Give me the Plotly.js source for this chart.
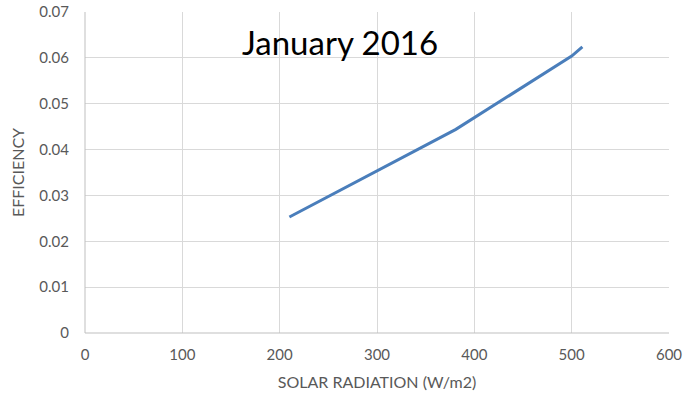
<!DOCTYPE html>
<html>
<head>
<meta charset="utf-8">
<script src="https://cdn.plot.ly/plotly-3.0.1.min.js"></script>
<style>html,body{margin:0;padding:0;background:#fff;}#chart{width:685px;height:398px;}</style>
</head>
<body>
<div id="chart"></div>
<script>
const radiation = [210, 381, 500, 511];
const efficiency = [0.0253, 0.0444, 0.0604, 0.0624];
const xTicks = [0, 100, 200, 300, 400, 500, 600];
const yTicks = [0, 0.01, 0.02, 0.03, 0.04, 0.05, 0.06, 0.07];
const yTickLabels = ['0', '0.01', '0.02', '0.03', '0.04', '0.05', '0.06', '0.07'];

const font = "Lato, 'Open Sans', sans-serif";
Plotly.newPlot('chart', [{
  x: radiation, y: efficiency, type: 'scatter', mode: 'lines',
  line: {color: '#4a7ebb', width: 3}
}], {
  width: 685, height: 398,
  margin: {l: 85, r: 16, t: 12, b: 65},
  paper_bgcolor: '#fff', plot_bgcolor: '#fff',
  showlegend: false,
  font: {family: font, color: '#595959', size: 15},
  xaxis: {
    range: [0, 600], tickvals: xTicks, ticktext: xTicks.map(String),
    showgrid: true, gridcolor: '#d9d9d9', gridwidth: 1,
    zeroline: false, showline: false, ticks: '', ticklen: 0,
    ticklabelstandoff: 11, automargin: false,
    tickfont: {size: 15, color: '#595959'},
    title: {text: 'SOLAR RADIATION (W/m2)', font: {size: 16, color: '#595959'}, standoff: 14}
  },
  yaxis: {
    range: [0, 0.07], tickvals: yTicks, ticktext: yTickLabels,
    showgrid: true, gridcolor: '#d9d9d9', gridwidth: 1,
    zeroline: false, showline: false, ticks: '', ticklen: 0,
    ticklabelstandoff: 15, automargin: false,
    tickfont: {size: 15, color: '#595959'},
    title: {text: 'EFFICIENCY', font: {size: 16, color: '#595959'}, standoff: 10}
  },
  shapes: [
    {type: 'line', xref: 'paper', yref: 'paper', x0: 0, x1: 0, y0: 0, y1: 1, line: {color: '#bfbfbf', width: 1}},
    {type: 'line', xref: 'paper', yref: 'paper', x0: 0, x1: 1, y0: 0, y1: 0, line: {color: '#bfbfbf', width: 1}}
  ],
  annotations: [{
    text: 'January 2016', xref: 'paper', yref: 'paper', x: 0.437, y: 0.905,
    xanchor: 'center', yanchor: 'middle', showarrow: false,
    font: {family: font, size: 33, color: '#000'}
  }]
}, {displayModeBar: false, staticPlot: true});
</script>
</body>
</html>
